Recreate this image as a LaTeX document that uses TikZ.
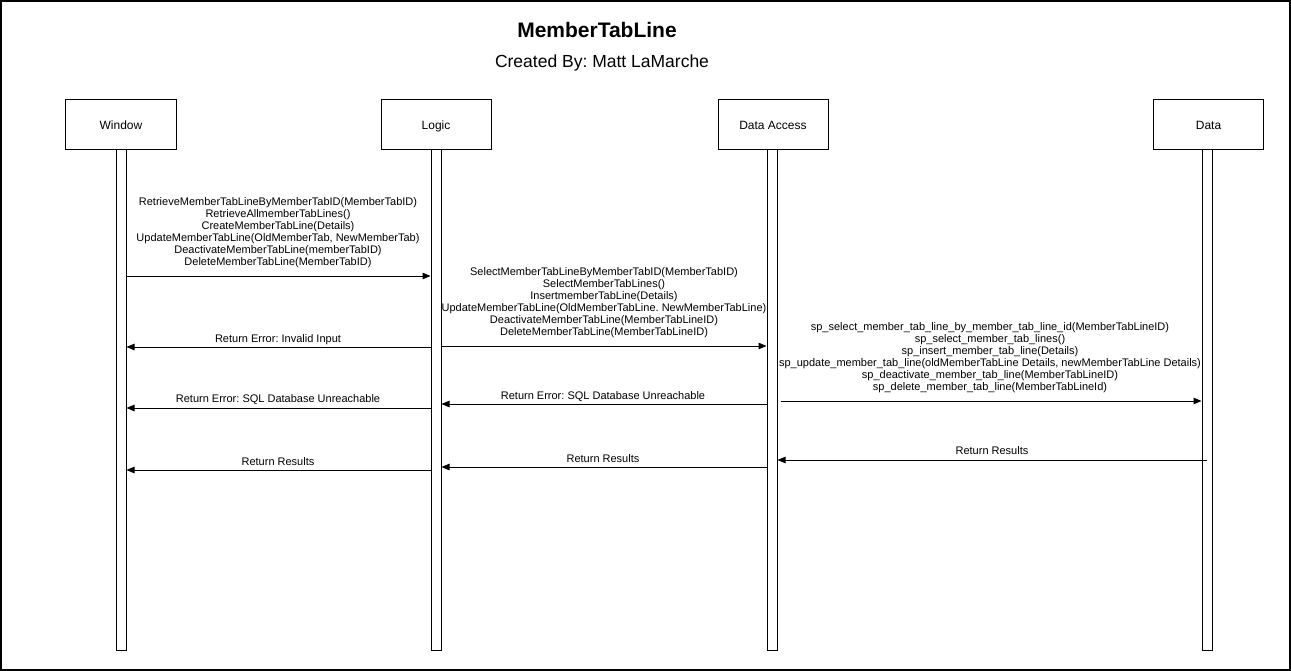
\documentclass[tikz,border=0pt]{standalone}
\usepackage{fontspec}
\setmainfont{Liberation Sans}
\usetikzlibrary{arrows.meta}
\frenchspacing
\begin{document}
\begin{tikzpicture}[x=1bp,y=-1bp,
  actor/.style={draw, line width=1bp, minimum width=110bp, minimum height=50bp, inner sep=0pt, font=\fontsize{12bp}{13bp}\selectfont, text height=12bp, text depth=2.5bp},
  lifebar/.style={draw, fill=white, line width=1bp, minimum width=10bp, minimum height=500bp, inner sep=0pt},
  msg/.style={draw, line width=1bp, -{Triangle[length=8bp,width=6.5bp]}},
  lbl/.style={font=\fontsize{11bp}{12bp}\selectfont, align=center, inner sep=0pt},
  one/.style={lbl, text height=8bp, text depth=2bp}
]
\useasboundingbox (0,0) rectangle (1291,671);
\draw[line width=1.5bp] (1,1) rectangle (1290,670);

\node[font=\fontsize{21bp}{24bp}\selectfont\bfseries] (title) at (597,30) {MemberTabLine};
\node[font=\fontsize{17.5bp}{20bp}\selectfont] (sub) at (602,63) {Created By: Matt LaMarche};

\node[actor] (win) at (121,125) {Window};
\node[actor] (log) at (436,125) {Logic};
\node[actor] (dac) at (773,125) {Data Access};
\node[actor] (dat) at (1208.5,125) {Data};

\node[lifebar] (bw) at (121,400) {};
\node[lifebar] (bl) at (436,400) {};
\node[lifebar] (bd) at (772,400) {};
\node[lifebar] (bt) at (1207,400) {};

\coordinate (c1) at (0,276);
\coordinate (e1) at (0,347);
\coordinate (c2) at (0,346);
\coordinate (e2) at (0,408);
\coordinate (e3) at (0,404);
\coordinate (c3) at (0,401);
\coordinate (r1) at (0,460);
\coordinate (r2) at (0,467);
\coordinate (r3) at (0,470);

% Window -> Logic
\draw[msg] (bw.east |- c1) -- (bl.west |- c1);
\node[lbl] (t1) at (278,233) {RetrieveMemberTabLineByMemberTabID(MemberTabID)\\RetrieveAllmemberTabLines()\\CreateMemberTabLine(Details)\\UpdateMemberTabLine(OldMemberTab, NewMemberTab)\\DeactivateMemberTabLine(memberTabID)\\DeleteMemberTabLine(MemberTabID)};

% Logic -> Window errors/results
\draw[msg] (bl.west |- e1) -- (bw.east |- e1);
\node[one] (t2) at (278,339) {Return Error: Invalid Input};
\draw[msg] (bl.west |- e2) -- (bw.east |- e2);
\node[one] (t3) at (278,399.5) {Return Error: SQL Database Unreachable};
\draw[msg] (bl.west |- r3) -- (bw.east |- r3);
\node[one] (t4) at (278,462) {Return Results};

% Logic -> Data Access
\draw[msg] (bl.east |- c2) -- (bd.west |- c2);
\node[lbl] (t5) at (604,303) {SelectMemberTabLineByMemberTabID(MemberTabID)\\SelectMemberTabLines()\\InsertmemberTabLine(Details)\\UpdateMemberTabLine(OldMemberTabLine. NewMemberTabLine)\\DeactivateMemberTabLine(MemberTabLineID)\\DeleteMemberTabLine(MemberTabLineID)};

% Data Access -> Logic
\draw[msg] (bd.west |- e3) -- (bl.east |- e3);
\node[one] (t6) at (603,396) {Return Error: SQL Database Unreachable};
\draw[msg] (bd.west |- r2) -- (bl.east |- r2);
\node[one] (t7) at (603,459) {Return Results};

% Data Access -> Data
\draw[msg, shorten <=3bp] (bd.east |- c3) -- (bt.west |- c3);
\node[lbl] (t8) at (990,358) {sp\_select\_member\_tab\_line\_by\_member\_tab\_line\_id(MemberTabLineID)\\sp\_select\_member\_tab\_lines()\\sp\_insert\_member\_tab\_line(Details)\\sp\_update\_member\_tab\_line(oldMemberTabLine Details, newMemberTabLine Details)\\sp\_deactivate\_member\_tab\_line(MemberTabLineID)\\sp\_delete\_member\_tab\_line(MemberTabLineId)};

% Data -> Data Access
\draw[msg] (bt.center |- r1) -- (bd.east |- r1);
\node[one] (t9) at (992,451) {Return Results};
\end{tikzpicture}
\end{document}
